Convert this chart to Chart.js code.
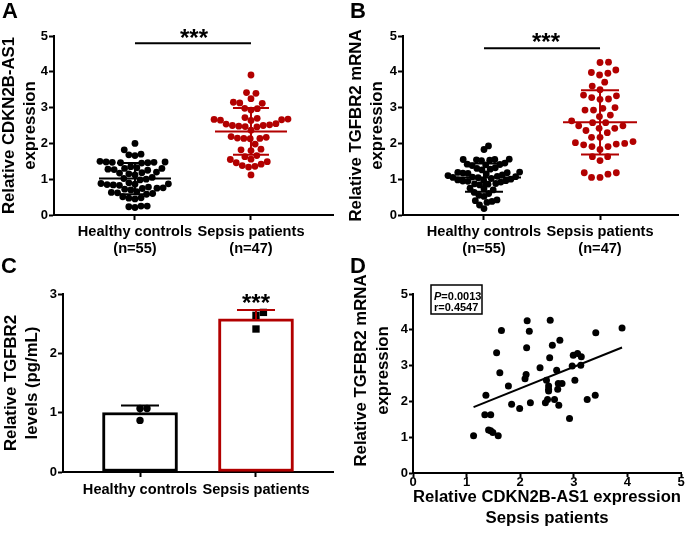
<!DOCTYPE html>
<html><head><meta charset="utf-8">
<script src="https://cdn.jsdelivr.net/npm/chart.js@4.4.1/dist/chart.umd.min.js"></script>
<style>
html,body{margin:0;padding:0;background:#fff;width:685px;height:542px;overflow:hidden;position:relative;}
canvas{position:absolute;}
.lbl{position:absolute;font:bold 22px "Liberation Sans",Arial,sans-serif;line-height:22px;color:#000;}
</style></head><body>
<canvas id="cA" style="left:-2px;top:0" width="347" height="270"></canvas>
<canvas id="cB" style="left:345px;top:0" width="340" height="270"></canvas>
<canvas id="cC" style="left:0;top:270px" width="345" height="272"></canvas>
<canvas id="cD" style="left:345px;top:270px" width="340" height="272"></canvas>
<div class="lbl" style="left:2px;top:0">A</div>
<div class="lbl" style="left:350px;top:0">B</div>
<div class="lbl" style="left:1px;top:255px">C</div>
<div class="lbl" style="left:350px;top:255px">D</div>
<script>
// ---------------- DATA ----------------
const groupLabels = ['Healthy controls', 'Sepsis patients'];
const groupN = ['(n=55)', '(n=47)'];

const cdknHealthy = [2.00,1.82,1.70,1.68,1.66,
  1.50,1.48,1.47,1.47,1.46,1.46,1.45,1.48,
  1.35,1.32,1.30,1.30,1.28,1.27,1.25,
  1.20,1.18,1.17,1.15,1.12,
  1.05,1.02,1.00,0.98,
  0.90,0.88,0.87,0.86,0.85,0.84,0.83,
  0.78,0.76,0.75,0.74,0.72,0.70,
  0.65,0.63,0.62,0.60,0.58,
  0.51,0.48,0.47,0.45,
  0.25,0.25,0.23,0.21];
const cdknSepsis = [3.91,
  3.42,3.40,
  3.25,3.15,3.13,3.12,
  2.98,2.97,2.93,
  2.72,2.70,2.68,2.67,2.66,2.65,2.64,
  2.55,2.54,2.52,2.50,2.50,2.48,2.47,2.46,
  2.37,
  2.19,2.17,2.15,2.14,2.14,2.13,
  1.98,
  1.84,1.82,1.80,
  1.66,1.63,
  1.56,1.55,1.49,
  1.46,1.42,1.38,1.36,1.34,
  1.12];

const tgfHealthy = [1.93,1.83,
  1.56,1.55,1.55,1.54,1.53,1.52,
  1.45,1.42,1.41,1.40,1.38,
  1.32,1.30,1.28,1.26,
  1.20,1.19,1.18,1.17,1.16,1.15,1.12,
  1.10,1.08,1.07,1.06,1.05,1.04,1.02,1.00,
  0.98,0.97,0.96,0.95,0.94,0.92,
  0.88,0.87,0.86,0.84,
  0.75,0.73,0.70,
  0.63,0.60,0.55,0.52,
  0.42,0.40,0.38,0.35,
  0.28,0.18];
const tgfSepsis = [4.27,4.26,
  4.05,3.98,3.96,3.91,
  3.71,
  3.60,3.50,
  3.35,3.33,3.28,3.24,3.23,
  3.00,2.98,2.93,2.93,
  2.79,2.75,2.63,2.58,2.58,
  2.49,2.49,2.42,2.42,2.36,2.30,
  2.17,2.17,2.05,2.02,2.00,1.98,
  1.96,1.91,1.91,1.83,
  1.63,1.63,1.52,
  1.18,1.18,1.14,1.05,1.05];

const elisaHealthy = [1.07, 1.07, 0.87];
const elisaSepsis = [2.69, 2.64, 2.41];

const corrX = [1.13,1.34,1.45,1.36,1.41,1.45,1.49,1.59,1.56,1.62,1.78,1.65,1.84,1.99,2.13,2.17,2.12,2.11,2.09,2.19,2.37,2.56,2.60,2.55,2.74,2.68,2.49,2.53,2.53,2.53,2.51,2.47,2.64,2.70,2.71,2.78,2.72,2.92,2.99,3.07,3.14,2.97,3.13,3.02,3.25,3.40,3.41,3.90];
const corrY = [1.04,1.63,1.63,2.17,1.20,1.18,1.13,1.04,3.36,2.80,2.43,3.98,1.92,1.80,4.25,3.96,3.50,2.75,2.63,1.96,2.94,4.27,3.57,3.22,3.71,2.87,2.59,2.43,2.34,2.29,2.05,1.96,2.05,2.34,2.50,2.50,1.89,1.52,3.29,3.34,3.25,2.99,3.01,2.59,2.05,2.17,3.92,4.05];
const corrStats = ['P', '=0.0013', 'r=0.4547'];

const yTicksAB = [0,1,2,3,4,5];
const yTicksC = [0,1,2,3];
const ticksD = [0,1,2,3,4,5];
const sigText = '***';

// ---------------- HELPERS ----------------
const FONT = '"Liberation Sans", Arial, Helvetica, sans-serif';
const BLACK = '#000000', RED = '#b20000';
const mean = a => a.reduce((s,v)=>s+v,0)/a.length;
const sd = a => { const m = mean(a); return Math.sqrt(a.reduce((s,v)=>s+(v-m)*(v-m),0)/(a.length-1)); };

// beeswarm layout (pixel space), squeezed to a maximum half-width -> offsets in x data units
function swarm(values, pxY, pxX, d, maxHalf) {
  const idx = values.map((v,i)=>i).sort((a,b)=>values[a]-values[b]);
  const placed = [];
  const off = new Array(values.length).fill(0);
  let flip = 1;
  const ok = (c, y) => placed.every(p => (p.x-c)*(p.x-c) + (p.y-y)*(p.y-y) >= d*d - 0.01);
  for (const i of idx) {
    const y = values[i]*pxY;
    const cands = [0];
    for (const p of placed) {
      const dy = Math.abs(p.y - y);
      if (dy < d) { const dx = Math.sqrt(d*d - dy*dy); cands.push(p.x + dx, p.x - dx); }
    }
    cands.sort((a,b)=> (Math.abs(a)-Math.abs(b)) || (flip*(b-a)));
    let best = 0;
    for (const c of cands) { if (ok(c, y)) { best = c; break; } }
    flip = -flip;
    placed.push({x: best, y});
    off[i] = best;
  }
  const w = Math.max(1e-9, ...off.map(Math.abs));
  const k = maxHalf ? Math.min(1, maxHalf / w) : 1;
  return off.map(o => o * k / pxX);
}

const gridOpts = { display: true, drawOnChartArea: false, drawTicks: true, tickLength: 5, tickWidth: 2, tickColor: BLACK };
const borderOpts = { display: true, color: BLACK, width: 2 };
const numFont = { family: FONT, size: 13, weight: 'bold' };
const catFont = { family: FONT, size: 14.6, weight: 'bold', lineHeight: 1.2 };
const titleFont = { family: FONT, size: 16.8, weight: 'bold', lineHeight: 1.3 };

const sdPlugin = {
  id: 'sdBars',
  afterDatasetsDraw(chart, args, opts) {
    if (!opts.groups) return;
    const {ctx} = chart; const x = chart.scales.x, y = chart.scales.y;
    ctx.save();
    ctx.lineWidth = opts.lineWidth || 2;
    for (const g of opts.groups) {
      const m = mean(g.values), s = sd(g.values);
      const cx = x.getPixelForValue(g.x);
      const ym = y.getPixelForValue(m), yt = y.getPixelForValue(m+s), yb = y.getPixelForValue(m-s);
      ctx.strokeStyle = g.color;
      ctx.beginPath();
      if (opts.meanHalf) { ctx.moveTo(cx-opts.meanHalf, ym); ctx.lineTo(cx+opts.meanHalf, ym); }
      ctx.moveTo(cx, ym); ctx.lineTo(cx, yt);
      ctx.moveTo(cx-opts.capHalf, yt); ctx.lineTo(cx+opts.capHalf, yt);
      if (opts.lower) { ctx.moveTo(cx, ym); ctx.lineTo(cx, yb); ctx.moveTo(cx-opts.capHalf, yb); ctx.lineTo(cx+opts.capHalf, yb); }
      ctx.stroke();
    }
    ctx.restore();
  }
};

const sigPlugin = {
  id: 'sig',
  afterDraw(chart, args, opts) {
    if (!opts.text) return;
    const {ctx} = chart; const x = chart.scales.x, y = chart.scales.y;
    ctx.save();
    const yp = y.getPixelForValue(opts.y);
    const x0 = x.getPixelForValue(opts.x0), x1 = x.getPixelForValue(opts.x1);
    if (opts.line) {
      ctx.strokeStyle = BLACK; ctx.lineWidth = 2;
      ctx.beginPath(); ctx.moveTo(x0, yp); ctx.lineTo(x1, yp); ctx.stroke();
    }
    ctx.fillStyle = BLACK;
    ctx.font = 'bold ' + opts.size + 'px ' + FONT;
    ctx.textAlign = 'center'; ctx.textBaseline = 'alphabetic';
    ctx.fillText(opts.text, (x0+x1)/2 + (opts.dx||0), yp + opts.dy);
    ctx.restore();
  }
};

function swarmPanel(id, healthy, sepsis, title, L) {
  const plotW = L.w - L.yW - L.padR, plotH = L.h - L.padT - L.xH;
  const pxX = plotW / (L.xMax - L.xMin), pxY = plotH / 5;
  const oh = swarm(healthy, pxY, pxX, L.dHealthy, L.halfHealthy), os = swarm(sepsis, pxY, pxX, L.dSepsis, L.halfSepsis);
  return new Chart(document.getElementById(id), {
    type: 'scatter',
    data: { datasets: [
      { data: healthy.map((v,i)=>({x: 0 + oh[i], y: v})), backgroundColor: BLACK, borderWidth: 0, pointRadius: 3.4, pointHoverRadius: 3.4 },
      { data: sepsis.map((v,i)=>({x: 1 + os[i], y: v})), backgroundColor: RED, borderWidth: 0, pointRadius: 3.4, pointHoverRadius: 3.4 }
    ]},
    options: {
      responsive: false, animation: false, events: [],
      layout: { padding: { top: L.padT, right: L.padR, left: 0, bottom: 0 } },
      plugins: {
        legend: { display: false }, tooltip: { enabled: false },
        sdBars: { groups: [ {x: 0, values: healthy, color: BLACK}, {x: 1, values: sepsis, color: RED} ], meanHalf: L.meanHalf, capHalf: L.capHalf, lower: true, lineWidth: 2 },
        sig: { text: sigText, line: true, x0: 0, x1: 1, y: L.sigY, dy: L.sigDy, dx: L.sigDx, size: 24 }
      },
      scales: {
        x: { type: 'linear', min: L.xMin, max: L.xMax,
             afterBuildTicks: s => { s.ticks = [0,1].map(v=>({value: v})); },
             afterFit: s => { s.height = L.xH; s.paddingLeft = 0; s.paddingRight = 0; },
             ticks: { callback: v => [groupLabels[v], groupN[v]], font: catFont, color: BLACK, padding: 3, maxRotation: 0, autoSkip: false },
             grid: gridOpts, border: borderOpts },
        y: { min: 0, max: 5,
             afterBuildTicks: s => { s.ticks = yTicksAB.map(v=>({value: v})); },
             afterFit: s => { s.width = L.yW; },
             ticks: { font: numFont, color: BLACK, padding: 1 },
             title: { display: true, text: title, font: titleFont, color: BLACK, padding: {top: L.titlePad || 0, bottom: 0} },
             grid: gridOpts, border: borderOpts }
      }
    },
    plugins: [sdPlugin, sigPlugin]
  });
}

swarmPanel('cA', cdknHealthy, cdknSepsis, ['Relative CDKN2B-AS1', 'expression'],
  { w: 347, h: 270, yW: 56, padR: 12, padT: 36, xH: 55, xMin: -0.698, xMax: 1.707,
    dHealthy: 7.5, halfHealthy: 35, dSepsis: 8.5, halfSepsis: 37,
    meanHalf: 36, capHalf: 18, sigY: 4.80, sigDy: 2.5, sigDx: 1 });
swarmPanel('cB', tgfHealthy, tgfSepsis, ['Relative TGFBR2 mRNA', 'expression'],
  { w: 340, h: 270, yW: 58, padR: 7, padT: 36, xH: 55, xMin: -0.698, xMax: 1.672,
    dHealthy: 7.5, halfHealthy: 36, dSepsis: 9, halfSepsis: 33,
    meanHalf: 37, capHalf: 19, sigY: 4.66, sigDy: 1.5, sigDx: 4 });

// ---------------- PANEL C ----------------
(function(){
  const L = { w: 345, h: 272, yW: 63, padR: 12, padT: 24, xH: 70, xMin: -0.664, xMax: 1.664 };
  const plotW = L.w - L.yW - L.padR, plotH = L.h - L.padT - L.xH;
  const pxX = plotW / (L.xMax - L.xMin), pxY = plotH / 3;
  const oh = swarm(elisaHealthy, pxY, pxX, 7, 0), os = swarm(elisaSepsis, pxY, pxX, 8, 0);
  const sSep = mean(elisaSepsis) + sd(elisaSepsis);
  new Chart(document.getElementById('cC'), {
    type: 'bar',
    data: { datasets: [
      { type: 'bar', data: [{x: 0, y: mean(elisaHealthy)}, {x: 1, y: mean(elisaSepsis)}],
        backgroundColor: '#ffffff', borderColor: [BLACK, RED], borderWidth: 3, borderSkipped: false, barThickness: 75, order: 3 },
      { type: 'scatter', data: elisaHealthy.map((v,i)=>({x: 0 + oh[i], y: v})), backgroundColor: BLACK, borderWidth: 0, pointRadius: 3.7, pointStyle: 'circle', order: 2 },
      { type: 'scatter', data: elisaSepsis.map((v,i)=>({x: 1 + os[i], y: v})), backgroundColor: BLACK, borderWidth: 0, pointRadius: 5.2, pointStyle: 'rect', order: 1 }
    ]},
    options: {
      responsive: false, animation: false, events: [],
      layout: { padding: { top: L.padT, right: L.padR, left: 0, bottom: 0 } },
      plugins: {
        legend: { display: false }, tooltip: { enabled: false },
        sdBars: { groups: [ {x: 0, values: elisaHealthy, color: BLACK}, {x: 1, values: elisaSepsis, color: RED} ], meanHalf: 0, capHalf: 19, lower: false, lineWidth: 2 },
        sig: { text: sigText, line: false, x0: 1, x1: 1, y: sSep, dy: 0.5, dx: 0, size: 24 }
      },
      scales: {
        x: { type: 'linear', min: L.xMin, max: L.xMax, offset: false,
             afterBuildTicks: s => { s.ticks = [0,1].map(v=>({value: v})); },
             afterFit: s => { s.height = L.xH; s.paddingLeft = 0; s.paddingRight = 0; },
             ticks: { callback: v => groupLabels[v], font: catFont, color: BLACK, padding: 4, maxRotation: 0, autoSkip: false },
             grid: Object.assign({}, gridOpts, {offset: false}), border: borderOpts },
        y: { min: 0, max: 3, beginAtZero: true,
             afterBuildTicks: s => { s.ticks = yTicksC.map(v=>({value: v})); },
             afterFit: s => { s.width = L.yW; },
             ticks: { font: numFont, color: BLACK, padding: 1 },
             title: { display: true, text: ['Relative TGFBR2', 'levels (pg/mL)'], font: titleFont, color: BLACK, padding: 0 },
             grid: gridOpts, border: borderOpts }
      }
    },
    plugins: [sdPlugin, sigPlugin]
  });
})();

// ---------------- PANEL D ----------------
(function(){
  const mx = mean(corrX), my = mean(corrY);
  let sxy = 0, sxx = 0;
  corrX.forEach((x,i)=>{ sxy += (x-mx)*(corrY[i]-my); sxx += (x-mx)*(x-mx); });
  const b = sxy/sxx, a = my - b*mx;
  const xlo = Math.min(...corrX), xhi = Math.max(...corrX);

  const boxPlugin = {
    id: 'pbox',
    afterDraw(chart) {
      const {ctx, chartArea: ca} = chart;
      ctx.save();
      const bx = ca.left + 18, by = ca.top - 9, bw = 51, bh = 29;
      ctx.strokeStyle = BLACK; ctx.lineWidth = 1.5;
      ctx.strokeRect(bx, by, bw, bh);
      ctx.fillStyle = BLACK; ctx.textBaseline = 'alphabetic'; ctx.textAlign = 'left';
      ctx.font = 'italic bold 11px ' + FONT;
      ctx.fillText(corrStats[0], bx + 3, by + 15);
      const pw = ctx.measureText(corrStats[0]).width;
      ctx.font = 'bold 11px ' + FONT;
      ctx.fillText(corrStats[1], bx + 3 + pw, by + 15);
      ctx.fillText(corrStats[2], bx + 3, by + 26);
      ctx.font = 'bold 16.8px ' + FONT;
      ctx.textAlign = 'center'; ctx.textBaseline = 'middle';
      const cy = (ca.top + ca.bottom)/2 - 13;
      ctx.translate(ca.left - 52, cy); ctx.rotate(-Math.PI/2);
      ctx.fillText('Relative TGFBR2 mRNA', 0, 0);
      ctx.fillText('expression', 0, 22);
      ctx.restore();
    }
  };

  new Chart(document.getElementById('cD'), {
    type: 'scatter',
    data: { datasets: [
      { data: corrX.map((x,i)=>({x, y: corrY[i]})), backgroundColor: BLACK, borderWidth: 0, pointRadius: 3.5, order: 1 },
      { type: 'line', data: [{x: xlo, y: a + b*xlo}, {x: xhi, y: a + b*xhi}], borderColor: BLACK, borderWidth: 2, pointRadius: 0, fill: false, order: 2 }
    ]},
    options: {
      responsive: false, animation: false, events: [],
      layout: { padding: { top: 24, right: 3, left: 0, bottom: 0 } },
      plugins: { legend: { display: false }, tooltip: { enabled: false } },
      scales: {
        x: { type: 'linear', min: 0, max: 5,
             afterBuildTicks: s => { s.ticks = ticksD.map(v=>({value: v})); },
             afterFit: s => { s.height = 69; s.paddingLeft = 0; s.paddingRight = 0; },
             ticks: { font: numFont, color: BLACK, padding: -2, maxRotation: 0, autoSkip: false },
             title: { display: true, text: ['Relative CDKN2B-AS1 expression', 'Sepsis patients'], font: { family: FONT, size: 16.8, weight: 'bold', lineHeight: 1.25 }, color: BLACK, padding: { top: 0, bottom: 13.5 } },
             grid: Object.assign({}, gridOpts, {tickLength: 4}), border: borderOpts },
        y: { type: 'linear', min: 0, max: 5,
             afterBuildTicks: s => { s.ticks = ticksD.map(v=>({value: v})); },
             afterFit: s => { s.width = 68; },
             ticks: { font: numFont, color: BLACK, padding: 1 },
             grid: Object.assign({}, gridOpts, {tickLength: 4}), border: borderOpts }
      }
    },
    plugins: [boxPlugin]
  });
})();
</script>
</body></html>
